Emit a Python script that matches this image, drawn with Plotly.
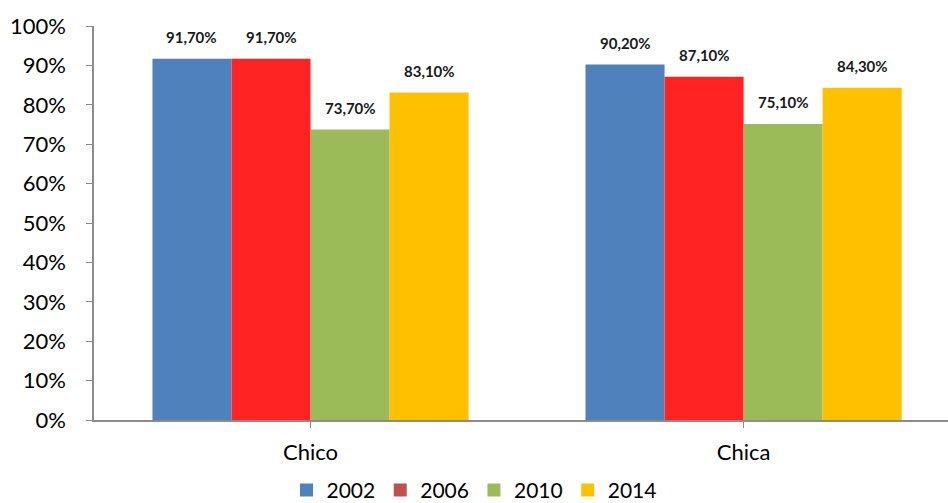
import plotly.graph_objects as go

# Data
categories = ["Chico", "Chica"]
years = ["2002", "2006", "2010", "2014"]
values_2002 = [0.917, 0.902]
values_2006 = [0.917, 0.871]
values_2010 = [0.737, 0.751]
values_2014 = [0.831, 0.843]
series = [values_2002, values_2006, values_2010, values_2014]

bar_colors = ["#4F81BD", "#FF2323", "#9BBB59", "#FFC000"]
legend_colors = ["#4F81BD", "#C0504D", "#9BBB59", "#FFC000"]

FONT = "Lato, Carlito, 'Liberation Sans', sans-serif"
BARGAP = 0.27

fig = go.Figure()
x_idx = list(range(len(categories)))

for name, vals, col in zip(years, series, bar_colors):
    fig.add_trace(go.Bar(
        x=x_idx, y=vals, name=name, marker=dict(color=col, line=dict(width=0)),
        showlegend=False, hoverinfo="skip",
    ))

# legend swatches (square markers, no data)
for name, col in zip(years, legend_colors):
    fig.add_trace(go.Scatter(x=[None], y=[None], name=name, mode="markers",
                             marker=dict(color=col, symbol="square", size=13),
                             showlegend=True))

# value labels above each bar
n = len(series)
bw = (1 - BARGAP) / n
annotations = []
for i, vals in enumerate(series):
    off = (i - (n - 1) / 2) * bw
    for j, v in enumerate(vals):
        annotations.append(dict(
            x=j + off, y=v, xref="x", yref="y", yanchor="bottom",
            text=f"{v*100:.2f}%".replace(".", ","), showarrow=False,
            yshift=11, font=dict(family=FONT, size=15, color="#1a1a1a", weight="bold"),
        ))

fig.update_layout(
    width=948, height=503,
    margin=dict(l=94, r=0, t=26, b=83, autoexpand=False),
    paper_bgcolor="white", plot_bgcolor="white",
    barmode="group", bargap=BARGAP, bargroupgap=0,
    font=dict(family=FONT, size=22, color="#000000"),
    annotations=annotations,
    legend=dict(orientation="h", x=0.5, xanchor="center", xref="container",
                y=0.066, yanchor="top", yref="container", font=dict(size=21),
                itemwidth=30, traceorder="normal"),
    xaxis=dict(
        range=[-0.5, 1.472], tickmode="array", tickvals=x_idx, ticktext=categories,
        showline=True, linecolor="#8C8C8C", linewidth=1.5,
        ticks="outside", ticklen=6, tickcolor="#8C8C8C", tickson="boundaries",
        showgrid=False, zeroline=False, ticklabelstandoff=6, automargin=False,
    ),
    yaxis=dict(
        range=[0, 1], tickvals=[i / 10 for i in range(11)], tickformat=".0%",
        showline=True, linecolor="#8C8C8C", linewidth=1.5,
        ticks="outside", ticklen=6, tickcolor="#8C8C8C",
        showgrid=False, zeroline=False, ticklabelstandoff=16, automargin=False,
    ),
)

fig.write_html("out.html")
